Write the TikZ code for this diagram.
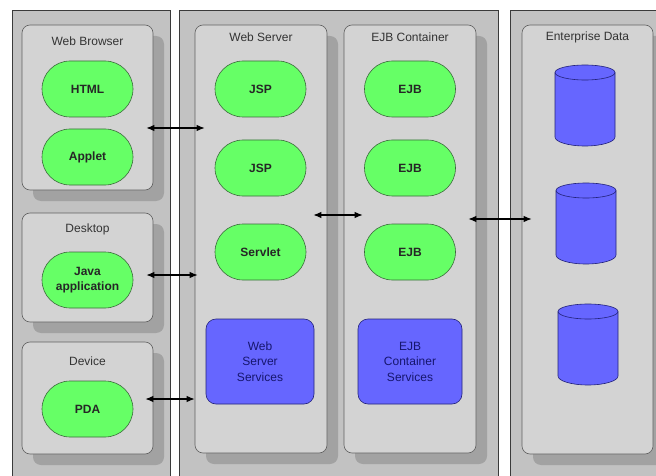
\documentclass[tikz,border=0pt]{standalone}
\usepackage{fontspec}
\setmainfont{Liberation Sans}
\usetikzlibrary{arrows.meta,shapes.misc,shadows}
\definecolor{panelc}{HTML}{C2C2C2}
\definecolor{panelborder}{HTML}{3A3A3A}
\definecolor{boxc}{HTML}{D3D3D3}
\definecolor{boxborder}{HTML}{606060}
\definecolor{shadc}{HTML}{A2A2A2}
\definecolor{greenc}{HTML}{66FF66}
\definecolor{greenborder}{HTML}{3C6A3C}
\definecolor{bluec}{HTML}{6666FF}
\definecolor{blueborder}{HTML}{22227A}
\definecolor{bluetext}{HTML}{16166E}
\definecolor{titletext}{HTML}{333333}
\tikzset{
  panel/.style={draw=panelborder, line width=1pt, fill=panelc, inner sep=0pt},
  ibox/.style={draw=boxborder, line width=0.6pt, fill=boxc, rounded corners=8pt, inner sep=0pt,
    drop shadow={shadow xshift=11pt, shadow yshift=-11pt, fill=shadc, opacity=1}},
  boxtitle/.style={font=\fontsize{12}{14}\selectfont, text=titletext, inner sep=0pt},
  oval/.style={rounded rectangle, draw=greenborder, line width=0.6pt, fill=greenc,
    minimum width=91pt, minimum height=56pt, inner sep=0pt, align=center,
    font=\fontsize{12}{14.7}\selectfont\bfseries, text=black!85},
  svc/.style={draw=blueborder, line width=0.6pt, fill=bluec, rounded corners=10pt,
    minimum height=85pt, inner sep=0pt, align=center,
    font=\fontsize{12}{15.5}\selectfont, text=bluetext},
  biarrow/.style={{Latex[length=8pt,width=6.5pt]}-{Latex[length=8pt,width=6.5pt]}, line width=1.2pt, black},
  dbcyl/.pic={
    \path[fill=bluec] (-30,7.5) -- (-30,72) arc[start angle=180,end angle=0,x radius=30,y radius=9]
      -- (30,7.5) arc[start angle=0,end angle=-180,x radius=30,y radius=7.5] -- cycle;
    \draw[blueborder, line width=0.6pt] (-30,7.5) -- (-30,72) arc[start angle=180,end angle=0,x radius=30,y radius=9]
      -- (30,7.5) arc[start angle=0,end angle=-180,x radius=30,y radius=7.5] -- cycle;
    \draw[blueborder, line width=0.6pt] (-30,7.5) arc[start angle=180,end angle=0,x radius=30,y radius=7.5];
  }
}
\begin{document}
\begin{tikzpicture}[x=1pt,y=-1pt]
\useasboundingbox[fill=white] (0,0) rectangle (656,476);
\clip (0,0) rectangle (656,476);
% panels
\node[panel, anchor=north west, minimum width=158pt, minimum height=490pt] (p1) at (12,10) {};
\node[panel, anchor=north west, minimum width=319pt, minimum height=490pt] (p2) at (179,10) {};
\node[panel, anchor=north west, minimum width=160pt, minimum height=490pt] (p3) at (510,10) {};
% inner boxes
\node[ibox, minimum width=131pt, minimum height=165pt] (wb) at (87.5,107.5) {};
\node[ibox, minimum width=131pt, minimum height=109pt] (dt) at (87.5,267.5) {};
\node[ibox, minimum width=131pt, minimum height=112pt] (dv) at (87.5,398) {};
\node[ibox, minimum width=132pt, minimum height=428pt] (ws) at (261,239) {};
\node[ibox, minimum width=132pt, minimum height=428pt] (ejb) at (410,239) {};
\node[ibox, minimum width=131pt, minimum height=429pt] (ed) at (587.5,239.5) {};
% titles
\node[boxtitle] (wbt) at (87.5,41) {Web Browser};
\node[boxtitle] (dtt) at (87.5,229) {Desktop};
\node[boxtitle] (dvt) at (87.5,361) {Device};
\node[boxtitle] (wst) at (261,37) {Web Server};
\node[boxtitle] (ejbt) at (410,37) {EJB Container};
\node[boxtitle] (edt) at (587.5,37) {Enterprise Data};
% ovals
\node[oval] (html) at (87.5,89) {HTML};
\node[oval] (applet) at (87.5,157) {Applet};
\node[oval] (java) at (87.5,280) {Java\\application};
\node[oval] (pda) at (87.5,409) {PDA};
\node[oval] (jsp1) at (260.5,89) {JSP};
\node[oval] (jsp2) at (260.5,168) {JSP};
\node[oval] (servlet) at (260.5,252) {Servlet};
\node[oval] (ejb1) at (410,89) {EJB};
\node[oval] (ejb2) at (410,168) {EJB};
\node[oval] (ejb3) at (410,252) {EJB};
% services
\node[svc, minimum width=108pt] (wss) at (260,361.5) {Web\\Server\\Services};
\node[svc, minimum width=104pt] (ecs) at (410,361.5) {EJB\\Container\\Services};
% databases
\pic (db1) at (585,65) {dbcyl};
\pic (db2) at (586,183) {dbcyl};
\pic (db3) at (588,304) {dbcyl};
% arrows
\draw[biarrow, shorten <=-7pt, shorten >=-10pt] (wb.east |- 0,128) -- (ws.west |- 0,128);
\draw[biarrow, shorten <=-7pt, shorten >=-3pt] (dt.east |- 0,275) -- (ws.west |- 0,275);
\draw[biarrow, shorten <=-8pt] (dv.east |- 0,399) -- (ws.west |- 0,399);
\draw[biarrow, shorten <=-14pt, shorten >=-19pt] (ws.east |- 0,215) -- (ejb.west |- 0,215);
\draw[biarrow, shorten <=-8pt, shorten >=-10pt] (ejb.east |- 0,219) -- (ed.west |- 0,219);
\end{tikzpicture}
\end{document}
